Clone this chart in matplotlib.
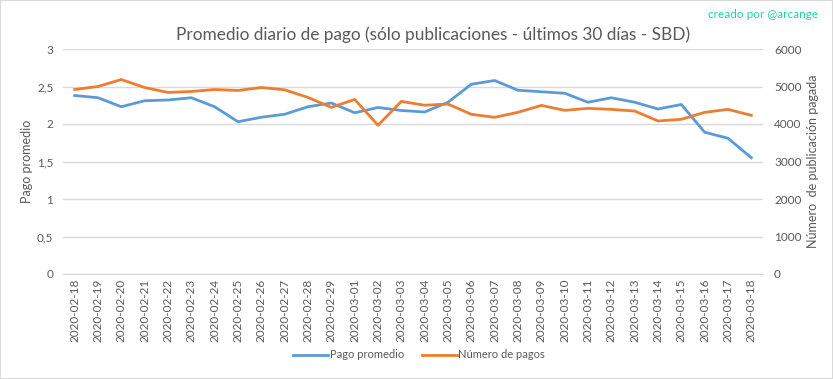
import matplotlib.pyplot as plt
from matplotlib.patches import Rectangle

fechas = ['2020-02-18', '2020-02-19', '2020-02-20', '2020-02-21', '2020-02-22',
          '2020-02-23', '2020-02-24', '2020-02-25', '2020-02-26', '2020-02-27',
          '2020-02-28', '2020-02-29', '2020-03-01', '2020-03-02', '2020-03-03',
          '2020-03-04', '2020-03-05', '2020-03-06', '2020-03-07', '2020-03-08',
          '2020-03-09', '2020-03-10', '2020-03-11', '2020-03-12', '2020-03-13',
          '2020-03-14', '2020-03-15', '2020-03-16', '2020-03-17', '2020-03-18']
pago_promedio = [2.38, 2.35, 2.23, 2.31, 2.32, 2.35, 2.23, 2.03, 2.09, 2.13,
                 2.23, 2.28, 2.15, 2.22, 2.18, 2.16, 2.29, 2.53, 2.58, 2.45,
                 2.43, 2.41, 2.29, 2.35, 2.29, 2.20, 2.26, 1.89, 1.81, 1.55]
numero_pagos = [4920, 5000, 5186, 4973, 4841, 4867, 4920, 4894, 4973, 4912,
                4708, 4443, 4655, 3966, 4602, 4500, 4532, 4258, 4178, 4311,
                4496, 4364, 4417, 4390, 4346, 4081, 4125, 4311, 4390, 4231]

azul = '#5B9BD5'
naranja = '#ED7D31'
gris = '#595959'
plt.rcParams['font.family'] = ['Lato', 'DejaVu Sans']

fig = plt.figure(figsize=(8.33, 3.79), dpi=100)
ax = fig.add_axes([63 / 833, 1 - 274 / 379, 700 / 833, 225 / 379])
ax2 = ax.twinx()

x = range(len(fechas))
l1, = ax.plot(x, pago_promedio, color=azul, lw=2, label='Pago promedio')
l2, = ax2.plot(x, numero_pagos, color=naranja, lw=2, label='Número de pagos')

ax.set_xlim(-0.5, len(fechas) - 0.5)
ax.set_ylim(0, 3)
ax2.set_ylim(0, 6000)
ax.set_yticks([0, 0.5, 1, 1.5, 2, 2.5, 3])
ax.set_yticklabels(['0', '0,5', '1', '1,5', '2', '2,5', '3'])
ax2.set_yticks(range(0, 6001, 1000))
ax.set_xticks(list(x))
ax.set_xticklabels(fechas, rotation=90)
ax.grid(axis='y', color='#D9D9D9', lw=1)
ax.set_axisbelow(True)

for a in (ax, ax2):
    for s in a.spines.values():
        s.set_visible(False)
    a.tick_params(length=0, colors=gris, labelsize=8.5)
ax.spines['bottom'].set_visible(True)
ax.spines['bottom'].set_color('#D9D9D9')
ax.tick_params(axis='y', pad=7)
ax2.tick_params(axis='y', pad=8)

ax.set_ylabel('Pago promedio', color=gris, fontsize=9, labelpad=3)
ax2.set_ylabel('Número  de publicación pagada', color=gris, fontsize=9,
               rotation=90, labelpad=4)

fig.text(433 / 833, 1 - 35 / 379,
         'Promedio diario de pago (sólo publicaciones - últimos 30 días - SBD)',
         ha='center', va='center', fontsize=12.4, color=gris)
fig.text(818 / 833, 1 - 15 / 379, 'creado por @arcange', ha='right',
         va='center', fontsize=8.5, color='#1ED6A4')

fig.legend([l1, l2], ['Pago promedio', 'Número de pagos'], loc='center',
           bbox_to_anchor=(419 / 833, 1 - 355 / 379), ncol=2,
           frameon=False, fontsize=8, labelcolor=gris, handlelength=3.2,
           columnspacing=1.6, handletextpad=0.1)

fig.patches.append(Rectangle((0, 0), 1, 1, transform=fig.transFigure,
                             fill=False, edgecolor='#D9D9D9', lw=1.5))

fig.savefig('out.png', dpi=100)
